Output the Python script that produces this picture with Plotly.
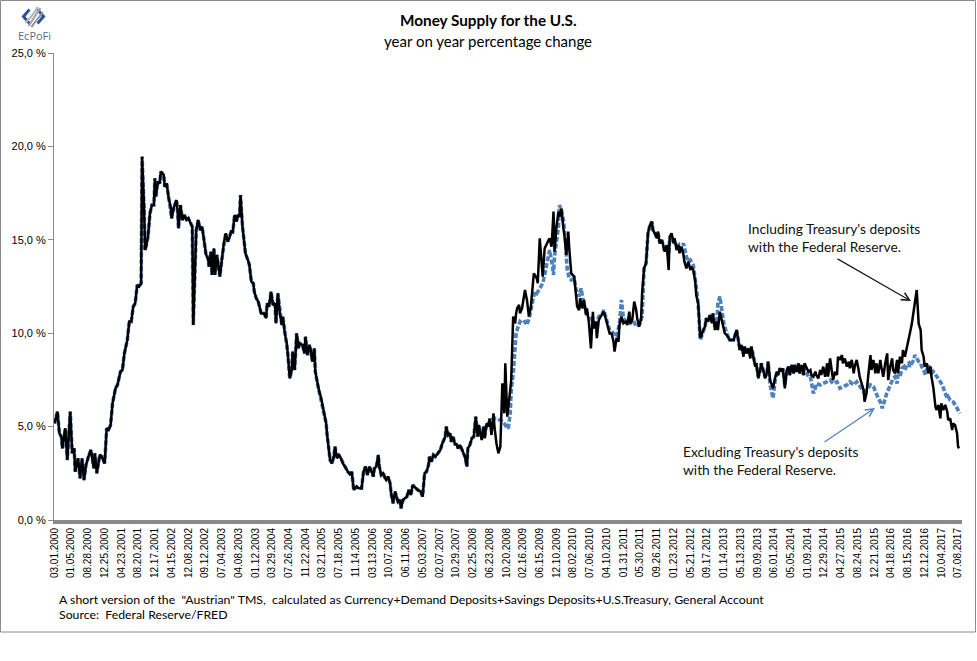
import plotly.graph_objects as go

# ---------------- data (week index since 03 Jan 2000, % y/y) ----------------
# identical for both series until mid-2008
common = [(0,5.17),(3,5.80),(5,4.64),(7,4.46),(8,3.84),(11,4.91),(13,3.21),(16,5.80),(18,3.57),(20,3.84),(21,2.59),(24,3.30),(26,2.23),(28,3.30),(30,2.14),(32,2.94),(35,3.48),(37,3.75),(40,2.77),(41,3.57),(43,2.50),(46,3.48),(48,3.39),(51,3.03),(53,4.91),(55,4.82),(57,5.09),(59,6.25),(62,7.05),(64,7.23),(67,7.94),(69,8.03),(71,8.92),(74,9.64),(76,10.62),(78,10.62),(80,11.42),(82,11.60),(84,12.58),(86,12.49),(88,12.67),(89,19.45),(91,16.77),(92,14.45),(93,14.63),(95,15.17),(97,16.42),(99,16.86),(101,16.86),(102,18.29),(103,17.31),(105,18.11),(107,18.02),(108,18.65),(111,18.47),(112,17.84),(114,18.02),(116,17.22),(118,16.77),(119,16.15),(121,16.68),(124,17.13),(125,16.60),(126,15.61),(128,16.86),(130,16.06),(132,16.33),(134,16.06),(136,16.15),(138,15.88),(140,15.70),(141,10.44),(143,14.45),(144,15.52),(146,16.06),(148,15.52),(150,15.70),(152,14.99),(154,14.19),(156,14.01),(157,13.56),(159,14.36),(160,13.12),(162,14.54),(163,13.12),(165,14.19),(167,13.38),(168,13.03),(170,13.92),(172,14.81),(174,15.35),(176,14.90),(178,15.17),(180,15.52),(181,15.35),(183,16.33),(185,15.97),(186,16.33),(188,16.24),(189,17.40),(191,15.70),(192,15.17),(194,14.28),(197,13.83),(198,13.65),(200,12.76),(202,12.67),(203,12.22),(205,11.87),(207,11.69),(209,11.24),(210,11.06),(213,11.06),(215,10.80),(216,11.60),(218,11.42),(220,12.22),(222,11.51),(224,11.60),(225,10.53),(227,12.13),(229,11.06),(231,10.44),(232,10.89),(234,9.99),(236,9.46),(237,8.92),(239,7.58),(241,8.03),(242,9.01),(244,8.03),(246,9.99),(248,9.19),(249,9.46),(252,9.37),(254,8.92),(255,9.81),(257,8.83),(259,9.37),(260,9.19),(262,8.48),(264,9.19),(265,7.94),(267,7.32),(269,6.87),(271,6.51),(272,6.25),(274,5.62),(276,5.17),(277,4.55),(279,3.66),(280,3.21),(282,3.03),(284,3.48),(285,3.93),(287,3.30),(289,3.48),(291,3.30),(293,3.03),(297,2.68),(298,2.59),(301,2.41),(302,2.59),(304,1.61),(307,1.78),(309,1.70),(312,1.70),(314,2.59),(316,2.86),(318,2.41),(320,2.86),(322,2.59),(324,2.32),(325,2.77),(327,2.86),(329,3.48),(330,2.86),(332,2.41),(334,2.50),(336,2.23),(337,2.14),(339,2.32),(341,1.96),(342,1.43),(344,0.89),(346,1.52),(347,1.34),(349,0.98),(351,1.07),(352,0.62),(354,1.07),(356,1.16),(358,1.25),(360,1.61),(362,1.34),(364,1.87),(367,1.70),(369,1.61),(372,1.52),(374,1.25),(376,2.50),(378,2.59),(380,2.94),(381,3.39),(383,3.12),(385,3.48),(387,3.39),(390,3.57),(392,3.75),(394,4.10),(397,4.46),(398,5.00),(400,4.55),(402,4.64),(403,4.19),(405,4.46),(407,4.01),(408,4.10),(410,3.84),(412,4.01),(414,3.75),(415,3.57),(417,3.39),(419,2.86),(420,3.84),(422,4.01),(424,4.37),(426,4.46),(428,5.53)]

# including Treasury's deposits (black), from mid-2008
incl = [(430,4.46),(431,5.09),(434,4.28),(436,5.00),(437,4.37),(439,5.17),(441,5.00),(442,5.44),(444,4.55),(446,5.71),(447,5.00),(449,4.10),(451,3.57),(453,3.93),(455,7.32),(457,5.71),(458,8.39),(460,5.53),(463,6.96),(464,7.49),(466,10.89),(468,10.53),(469,11.06),(470,11.33),(472,11.51),(473,11.06),(475,11.33),(478,12.31),(480,11.78),(482,10.89),(484,11.42),(486,12.40),(487,13.20),(490,12.94),(491,12.67),(493,15.08),(495,13.47),(496,13.03),(498,14.54),(500,14.81),(502,14.99),(503,15.08),(505,14.63),(507,16.51),(508,14.36),(510,15.70),(512,16.51),(513,16.24),(515,16.68),(517,15.61),(518,15.26),(520,14.19),(522,15.44),(523,14.54),(525,13.20),(528,13.03),(530,11.96),(531,11.42),(533,11.24),(534,11.87),(536,11.33),(538,11.78),(540,10.97),(541,11.33),(543,10.53),(545,9.19),(547,11.15),(548,10.26),(550,10.62),(551,9.73),(553,10.71),(556,10.97),(558,11.15),(560,10.80),(563,10.08),(564,9.99),(566,9.99),(568,9.55),(569,9.01),(571,9.73),(573,9.55),(574,10.44),(576,10.89),(578,10.53),(580,10.62),(582,10.44),(584,11.15),(585,10.53),(587,10.71),(589,11.69),(591,11.24),(592,10.80),(594,10.35),(596,10.80),(597,12.13),(599,13.47),(601,13.74),(603,15.35),(605,15.79),(607,15.97),(608,15.52),(610,15.35),(612,15.08),(613,15.44),(615,14.81),(617,14.99),(618,14.81),(620,14.36),(622,14.72),(624,13.38),(625,15.17),(627,15.35),(629,14.81),(630,15.08),(632,14.45),(634,14.72),(635,14.28),(637,14.63),(639,14.19),(640,13.83),(642,13.47),(644,13.83),(646,13.38),(647,13.56),(649,13.38),(651,12.76),(652,12.04),(654,11.60),(656,9.81),(657,9.81),(659,10.17),(661,10.35),(662,10.80),(664,10.62),(666,10.97),(668,10.53),(669,11.06),(671,10.17),(673,10.62),(674,10.17),(676,11.15),(678,10.62),(680,10.17),(681,9.99),(683,9.90),(686,9.64),(690,9.64),(693,10.17),(695,9.55),(696,9.10),(698,9.37),(700,8.74),(701,9.28),(703,8.92),(705,9.19),(707,8.65),(708,9.28),(710,8.74),(712,8.21),(713,8.39),(715,7.58),(717,8.03),(718,8.39),(720,8.03),(722,7.58),(724,7.94),(725,8.48),(727,7.49),(729,7.23),(730,7.05),(732,7.58),(734,7.94),(735,7.76),(737,8.12),(739,7.94),(740,8.12),(742,7.05),(744,8.03),(746,8.21),(747,7.76),(749,8.30),(751,7.85),(752,8.30),(754,7.94),(756,8.39),(757,7.85),(759,8.30),(761,7.76),(762,8.39),(764,8.12),(766,7.94),(768,8.03),(769,7.76),(771,7.67),(773,7.94),(774,7.76),(776,7.58),(778,8.03),(779,7.76),(781,8.21),(783,7.67),(785,8.39),(786,7.67),(788,8.65),(790,7.85),(791,7.49),(793,7.94),(795,7.76),(796,8.74),(798,8.57),(800,8.83),(801,8.39),(803,8.65),(805,8.21),(807,8.48),(808,8.12),(810,8.57),(812,7.85),(813,8.21),(815,8.57),(817,8.03),(818,7.67),(820,7.32),(822,6.96),(823,6.33),(825,6.78),(827,7.85),(829,8.83),(830,8.03),(832,8.57),(834,7.85),(835,8.39),(837,7.85),(839,8.57),(840,8.21),(842,7.67),(844,8.39),(846,8.92),(847,7.49),(849,8.21),(851,8.65),(852,8.03),(854,7.85),(856,8.57),(857,7.85),(859,8.74),(861,8.39),(862,9.10),(864,8.74),(866,9.19),(868,9.64),(869,9.99),(871,10.50),(873,11.30),(876,12.31),(878,10.50),(880,10.17),(881,9.10),(883,8.74),(884,8.21),(886,8.39),(888,7.85),(890,8.21),(891,7.67),(893,7.05),(895,6.07),(896,5.89),(898,6.16),(900,5.44),(901,6.25),(903,5.89),(905,6.16),(907,5.80),(908,5.35),(910,5.44),(912,4.82),(913,5.17),(915,5.08),(917,4.64),(918,3.93),(919,3.84)]

# excluding Treasury's deposits (blue dashed), from mid-2008
excl = [(430,4.46),(431,5.09),(434,4.46),(436,5.00),(437,4.37),(439,5.17),(442,5.17),(446,5.44),(449,5.44),(452,5.35),(456,5.26),(459,5.00),(461,4.90),(463,5.71),(464,6.96),(466,7.80),(468,9.10),(469,9.99),(471,10.35),(473,10.62),(475,10.53),(478,10.62),(480,10.44),(481,10.62),(483,10.97),(486,11.78),(488,12.22),(490,12.13),(493,12.40),(496,12.67),(498,13.12),(500,13.65),(502,14.10),(503,14.45),(505,13.92),(507,13.12),(508,14.10),(510,14.81),(512,15.70),(513,16.86),(515,16.60),(517,16.06),(519,15.17),(520,14.10),(521,13.38),(523,12.94),(525,12.85),(528,12.94),(530,12.31),(533,11.96),(535,12.40),(537,11.78),(540,11.15),(542,10.97),(544,10.89),(547,10.62),(551,10.53),(553,10.89),(556,10.97),(558,11.24),(561,10.71),(564,10.17),(568,9.99),(571,9.81),(574,10.53),(576,11.78),(578,10.80),(581,10.62),(585,10.53),(588,10.71),(591,10.35),(595,10.53),(597,10.89),(598,12.31),(599,13.47),(601,13.74),(603,15.35),(605,15.79),(607,15.97),(608,15.52),(610,15.35),(612,15.08),(613,15.44),(615,14.81),(617,14.99),(618,14.81),(620,14.36),(622,14.72),(624,14.30),(625,14.99),(627,15.08),(629,14.81),(630,14.90),(632,14.63),(634,14.72),(635,14.45),(637,14.63),(639,14.81),(642,14.10),(644,13.83),(646,13.92),(649,13.65),(652,12.49),(654,11.51),(656,9.64),(657,9.81),(659,10.17),(661,10.35),(662,10.80),(664,10.62),(666,10.97),(668,10.53),(669,11.06),(671,10.35),(673,10.62),(674,11.60),(676,11.96),(678,11.06),(680,10.53),(683,9.99),(686,9.64),(690,9.64),(693,10.17),(695,9.55),(696,9.28),(698,9.37),(700,8.92),(701,9.28),(703,8.92),(705,9.19),(707,8.74),(708,9.28),(710,8.74),(712,8.30),(713,8.39),(715,7.67),(717,8.03),(718,8.39),(720,8.03),(722,7.67),(724,7.94),(725,8.48),(727,7.23),(729,6.60),(730,6.51),(732,7.40),(734,7.94),(735,7.76),(737,8.12),(739,7.94),(740,8.12),(742,7.23),(744,8.03),(746,8.21),(747,7.76),(749,8.30),(751,7.85),(752,8.30),(754,7.94),(756,8.39),(757,7.85),(759,8.21),(761,7.76),(762,8.12),(764,7.94),(766,7.67),(768,7.67),(771,6.78),(773,7.05),(774,7.31),(778,7.23),(781,7.31),(785,7.40),(788,7.49),(791,7.31),(795,7.40),(798,7.05),(802,7.14),(805,7.23),(808,7.40),(812,7.23),(815,7.40),(819,7.14),(822,6.87),(825,6.96),(829,7.23),(832,7.14),(834,6.87),(835,6.78),(837,6.51),(839,6.33),(841,5.98),(842,6.16),(844,6.60),(846,6.87),(847,6.96),(849,7.23),(851,7.49),(852,7.58),(854,7.67),(856,7.31),(857,7.76),(859,7.67),(861,8.12),(863,8.21),(864,8.03),(866,8.30),(868,8.39),(869,8.21),(871,8.39),(873,8.57),(874,8.83),(876,8.65),(878,8.48),(880,8.39),(881,8.21),(883,8.03),(885,7.76),(886,8.03),(888,8.21),(890,8.12),(891,7.85),(893,7.94),(895,7.76),(896,7.67),(898,7.58),(900,7.40),(902,7.23),(903,7.05),(905,6.78),(907,6.51),(908,6.60),(910,6.42),(912,6.33),(913,6.33),(915,6.16),(917,5.98),(918,5.80),(920,5.71)]

x_labels = ["03.01.2000","01.05.2000","08.28.2000","12.25.2000","04.23.2001","08.20.2001","12.17.2001","04.15.2002","12.08.2002","09.12.2002",
            "07.04.2003","04.08.2003","01.12.2003","03.29.2004","07.26.2004","11.22.2004","03.21.2005","07.18.2005","11.14.2005","03.13.2006",
            "10.07.2006","06.11.2006","05.03.2007","02.07.2007","10.29.2007","02.25.2008","06.23.2008","10.20.2008","02.16.2009","06.15.2009",
            "12.10.2009","08.02.2010","07.06.2010","04.10.2010","01.31.2011","05.30.2011","09.26.2011","01.23.2012","05.21.2012","09.17.2012",
            "01.14.2013","05.13.2013","09.09.2013","06.01.2014","05.05.2014","01.09.2014","12.29.2014","04.27.2015","08.24.2015","12.21.2015",
            "04.18.2016","08.15.2016","12.12.2016","10.04.2017","07.08.2017"]
label_step = 17  # one label every 17 weeks
y_ticks = [0, 5, 10, 15, 20, 25]

# ---------------- figure ----------------
black_pts = common + incl
blue_pts = common + excl

fig = go.Figure()
fig.add_trace(go.Scatter(x=[p[0] for p in blue_pts], y=[p[1] for p in blue_pts], mode="lines",
                         line=dict(color="#4f81bd", width=3.6, dash="5px,2px"), hoverinfo="skip",
                         name="Excluding Treasury's deposits"))
fig.add_trace(go.Scatter(x=[p[0] for p in black_pts], y=[p[1] for p in black_pts], mode="lines",
                         line=dict(color="#000000", width=2.5), hoverinfo="skip",
                         name="Including Treasury's deposits"))

L, R, T, B = 54, 15, 53, 141
W, H = 977, 661
pw, ph = W - L - R, H - T - B

def px(xp):
    return (xp - L) / pw

def py(yp):
    return (H - B - yp) / ph

txt = "Lato, 'Open Sans', sans-serif"
annots = [
    dict(x=px(488), y=py(20), xref="paper", yref="paper", text="<b>Money Supply for the U.S.</b>",
         showarrow=False, font=dict(family=txt, size=15.3, color="#000"), xanchor="center", yanchor="middle"),
    dict(x=px(488), y=py(41), xref="paper", yref="paper", text="year on year percentage change",
         showarrow=False, font=dict(family=txt, size=15, color="#000"), xanchor="center", yanchor="middle"),
    dict(x=px(57), y=py(599), xref="paper", yref="paper",
         text='A short version of the  "Austrian" TMS,  calculated as Currency+Demand Deposits+Savings Deposits+U.S.Treasury, General Account',
         showarrow=False, font=dict(family=txt, size=12.3, color="#000"), xanchor="left", yanchor="middle"),
    dict(x=px(57), y=py(614), xref="paper", yref="paper", text="Source:  Federal Reserve/FRED",
         showarrow=False, font=dict(family=txt, size=12.3, color="#000"), xanchor="left", yanchor="middle"),
    dict(x=px(746), y=py(237), xref="paper", yref="paper",
         text="Including Treasury's deposits<br>with the Federal Reserve.", align="left",
         showarrow=False, font=dict(family=txt, size=13.8, color="#111"), xanchor="left", yanchor="middle"),
    dict(x=px(681), y=py(461), xref="paper", yref="paper",
         text="Excluding Treasury's deposits<br>with the Federal Reserve.", align="left",
         showarrow=False, font=dict(family=txt, size=13.8, color="#111"), xanchor="left", yanchor="middle"),
    # arrows
    dict(x=px(911), y=py(301), xref="paper", yref="paper", text="", showarrow=True,
         ax=-75, ay=-43, arrowhead=5, arrowsize=1.3, arrowwidth=1.2, arrowcolor="#1a1a1a"),
    dict(x=px(875), y=py(408), xref="paper", yref="paper", text="", showarrow=True,
         ax=-52, ay=35, arrowhead=5, arrowsize=1.3, arrowwidth=1.2, arrowcolor="#4f81bd"),
    # logo text
    dict(x=px(34.5), y=py(36), xref="paper", yref="paper", text="EcPoFi", showarrow=False,
         font=dict(family="'Open Sans', sans-serif", size=11, color="#5d6b94"), xanchor="center", yanchor="middle"),
]

shapes = [
    # outer chart border
    dict(type="rect", xref="paper", yref="paper", x0=px(0.5), x1=px(975.5), y0=py(632), y1=py(0.5),
         line=dict(color="#8a8a8a", width=1), fillcolor="rgba(0,0,0,0)", layer="below"),
]
# logo emblem
ax_, ay_ = px(33.5), py(16.5)
for path, col in [
    ("M -12,0 L -5,8 L -3,6 L -8,0 L -3,-6 L -5,-8 Z", "#2d4f9f"),
    ("M 12,0 L 5,8 L 3,6 L 8,0 L 3,-6 L 5,-8 Z", "#2d4f9f"),
    ("M -6,-9 C -2,-4 2,4 6,9 L 8,8 C 4,3 0,-4 -4,-10 Z", "#9ea3aa"),
    ("M -9,-5 C -4,-1 1,5 3,10 L 5,9 C 2,4 -2,-2 -7,-7 Z", "#b0b4ba"),
    ("M -3,-10 C 1,-5 5,1 9,5 L 10,3 C 6,-1 2,-6 -1,-11 Z", "#8e939b"),
]:
    shapes.append(dict(type="path", xref="paper", yref="paper", xsizemode="pixel", ysizemode="pixel",
                       xanchor=ax_, yanchor=ay_, path=path, fillcolor=col, line=dict(width=0)))

fig.update_layout(
    width=W, height=H, margin=dict(l=L, r=R, t=T, b=B, pad=0),
    paper_bgcolor="white", plot_bgcolor="white", showlegend=False,
    separators=", ",
    annotations=annots, shapes=shapes,
    xaxis=dict(range=[-0.5, 922], tickmode="array",
               tickvals=[label_step * i for i in range(len(x_labels))], ticktext=x_labels,
               tickangle=-90, tickfont=dict(family="'Liberation Sans', Arial, sans-serif", size=10, color="#000"),
               showgrid=False, zeroline=False, showline=True, linecolor="#8a8a8a", linewidth=4,
               ticks="", fixedrange=True),
    yaxis=dict(range=[0, 25], tickmode="array", tickvals=y_ticks,
               ticktext=[("%.1f" % v).replace(".", ",") + " %" for v in y_ticks],
               tickfont=dict(family="'Liberation Sans', Arial, sans-serif", size=11, color="#000"),
               showgrid=False, zeroline=False, showline=True, linecolor="#8a8a8a", linewidth=1,
               ticks="outside", ticklen=5, tickcolor="#8a8a8a", fixedrange=True),
)

fig.write_html("out.html", config={"displayModeBar": False, "staticPlot": True},
               post_script="document.body.style.margin='0px';")
